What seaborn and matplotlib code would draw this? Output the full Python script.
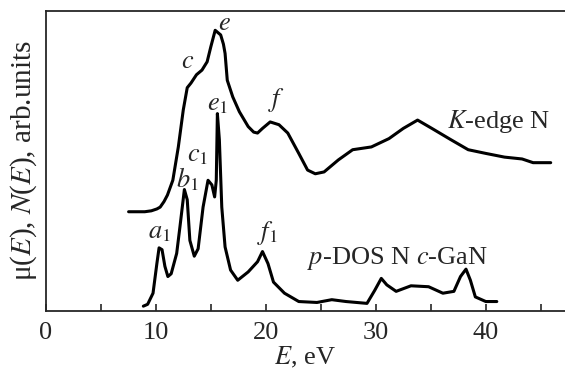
import numpy as np
import pandas as pd
import seaborn as sns
from matplotlib import pyplot as plt
from matplotlib.ticker import MultipleLocator

sns.set_style('ticks')
plt.rcParams['font.family'] = ['Liberation Serif', 'DejaVu Serif']
plt.rcParams['mathtext.fontset'] = 'stix'

# K-edge N absorption spectrum (upper curve), arb. units
kedge_E = [7.53, 9.0, 9.6, 10.1, 10.4, 10.75, 11.06, 11.55, 12.05, 12.5, 12.86, 13.2, 13.7,
           14.2, 14.67, 15.0, 15.4, 15.9, 16.15, 16.3, 16.5, 17.0, 17.6, 18.4, 18.9, 19.25,
           19.7, 20.4, 21.2, 22.0, 23.0, 23.8, 24.5, 25.3, 26.6, 27.9, 29.6, 31.2,
           32.5, 33.8, 35.1, 36.8, 38.4, 40.0, 41.7, 43.3, 44.3, 45.9]
kedge_mu = [107, 107, 108, 110, 112, 118, 125, 141, 177, 217, 241, 246, 255,
            260, 269, 285, 303, 298, 288, 278, 249, 231, 215, 199, 193, 192,
            197, 204, 201, 192, 170, 152, 148, 150, 163, 174, 177, 186,
            197, 206, 197, 185, 174, 170, 166, 164, 160, 160]

# p-DOS N c-GaN (lower curve), arb. units
dos_E = [8.87, 9.26, 9.75, 10.1, 10.3, 10.57, 10.83, 11.1, 11.4, 11.9, 12.2, 12.6,
         12.86, 13.1, 13.5, 13.85, 14.3, 14.75, 15.1, 15.35, 15.5, 15.6, 15.78, 16.0,
         16.3, 16.8, 17.45, 18.4, 19.25, 19.7, 20.2, 20.7, 21.7, 23.0, 24.65, 26.0,
         27.3, 29.2, 29.9, 30.5, 31.0, 31.85, 33.2, 34.8, 36.1, 37.1, 37.7, 38.2,
         38.6, 39.05, 40.0, 41.0]
dos_N = [5, 7, 19, 51, 68, 66, 48, 37, 40, 62, 91, 131,
         120, 76, 59, 67, 112, 141, 136, 123, 141, 213, 185, 112,
         69, 44, 33, 42, 53, 64, 51, 31, 19, 10, 9, 12,
         10, 8, 22, 35, 28, 21, 27, 26, 19, 21, 37, 45,
         33, 15, 10, 10]

df = pd.concat([
    pd.DataFrame({'E': kedge_E, 'y': kedge_mu, 'curve': 'K-edge N'}),
    pd.DataFrame({'E': dos_E, 'y': dos_N, 'curve': 'p-DOS N c-GaN'}),
])

fig = plt.figure(figsize=(5.65, 3.74), dpi=100)
ax = fig.add_axes([0.081, 0.169, 0.919, 0.802])
sns.lineplot(ax=ax, data=df, x='E', y='y', units='curve', estimator=None,
             sort=False, color='black', lw=2.2, legend=False)

ax.set_xlim(0, 47.2)
ax.set_ylim(0, 324)
ax.xaxis.set_major_locator(MultipleLocator(10))
ax.xaxis.set_minor_locator(MultipleLocator(5))
ax.set_yticks([])
ax.tick_params(axis='x', which='both', direction='in', length=5, width=1.2,
               labelsize=19, pad=8)
ax.spines['right'].set_visible(False)
for s in ['left', 'bottom', 'top']:
    ax.spines[s].set_linewidth(1.3)

ax.set_xlabel(r'$E$, eV', fontsize=19, labelpad=1)
ax.set_ylabel(r'μ($E$), $N$($E$), arb.units', fontsize=21, labelpad=5)

fs = 19
ax.text(12.86, 269, r'$c$', fontsize=fs, ha='center', va='center')
ax.text(16.2, 310, r'$e$', fontsize=fs, ha='center', va='center')
ax.text(21.0, 228, r'$f$', fontsize=fs, ha='center', va='center')
ax.text(41.2, 205, r'$K$-edge N', fontsize=fs, ha='center', va='center')
ax.text(15.6, 222, r'$e_1$', fontsize=fs, ha='center', va='center')
ax.text(13.8, 167, r'$c_1$', fontsize=fs, ha='center', va='center')
ax.text(12.9, 142, r'$b_1$', fontsize=fs, ha='center', va='center')
ax.text(10.3, 84, r'$a_1$', fontsize=fs, ha='center', va='center')
ax.text(20.1, 84, r'$f_1$', fontsize=fs, ha='center', va='center')
ax.text(32.0, 57, r'$p$-DOS N $c$-GaN', fontsize=fs, ha='center', va='center')

fig.savefig('out.png', dpi=100)
